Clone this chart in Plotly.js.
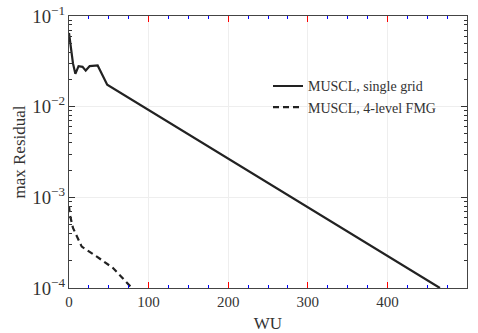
<!DOCTYPE html>
<html>
<head>
<meta charset="utf-8">
<script src="https://cdn.plot.ly/plotly-3.0.1.min.js"></script>
<style>html,body{margin:0;padding:0;background:#fff;}#chart{width:478px;height:333px;}</style>
</head>
<body>
<div id="chart"></div>
<script>
// Data
const singleGridWU = [0, 2, 5, 8, 12, 17, 21, 26, 36, 48, 466];
const singleGridRes = [0.065, 0.045, 0.03, 0.023, 0.028, 0.0275, 0.025, 0.028, 0.0285, 0.0175, 0.0001];
const fmgWU = [0, 1, 5, 16, 35, 55, 79];
const fmgRes = [0.0008, 0.00065, 0.00046, 0.000286, 0.000222, 0.000167, 0.0001];
const seriesNames = ['MUSCL, single grid', 'MUSCL, 4-level FMG'];

const lineColor = '#222';
const traces = [
  {x: singleGridWU, y: singleGridRes, mode: 'lines', name: seriesNames[0],
   line: {color: lineColor, width: 2.2}},
  {x: fmgWU, y: fmgRes, mode: 'lines', name: seriesNames[1],
   line: {color: lineColor, width: 2.2, dash: '6px,4px'}}
];

const font = {family: 'Liberation Serif, Times New Roman, serif', color: '#333'};
const layout = {
  width: 478, height: 333,
  margin: {l: 69, r: 11, t: 16, b: 45},
  font: Object.assign({size: 14}, font),
  showlegend: true,
  legend: {x: 0.5, y: 0.8, xanchor: 'left', yanchor: 'top', bgcolor: 'rgba(0,0,0,0)',
    font: Object.assign({size: 14}, font)},
  xaxis: {
    range: [0, 500], ticks: 'inside', ticklen: 6, tickcolor: 'red', showline: true, mirror: 'ticks',
    minor: {dtick: 25, ticks: 'inside', ticklen: 3, tickcolor: 'blue'},
    title: {text: 'WU', font: Object.assign({size: 17}, font)},
    tickfont: Object.assign({size: 15}, font)
  },
  yaxis: {
    type: 'log', range: [-4, -1], dtick: 1, exponentformat: 'power',
    ticks: 'inside', ticklen: 6, tickcolor: '#333', showline: true, mirror: 'ticks',
    minor: {dtick: 'D1', ticks: 'inside', ticklen: 3, tickcolor: '#333'},
    title: {text: 'max Residual', font: Object.assign({size: 17}, font)},
    tickfont: Object.assign({size: 15}, font)
  }
};

Plotly.newPlot('chart', traces, layout, {displayModeBar: false});
</script>
</body>
</html>
